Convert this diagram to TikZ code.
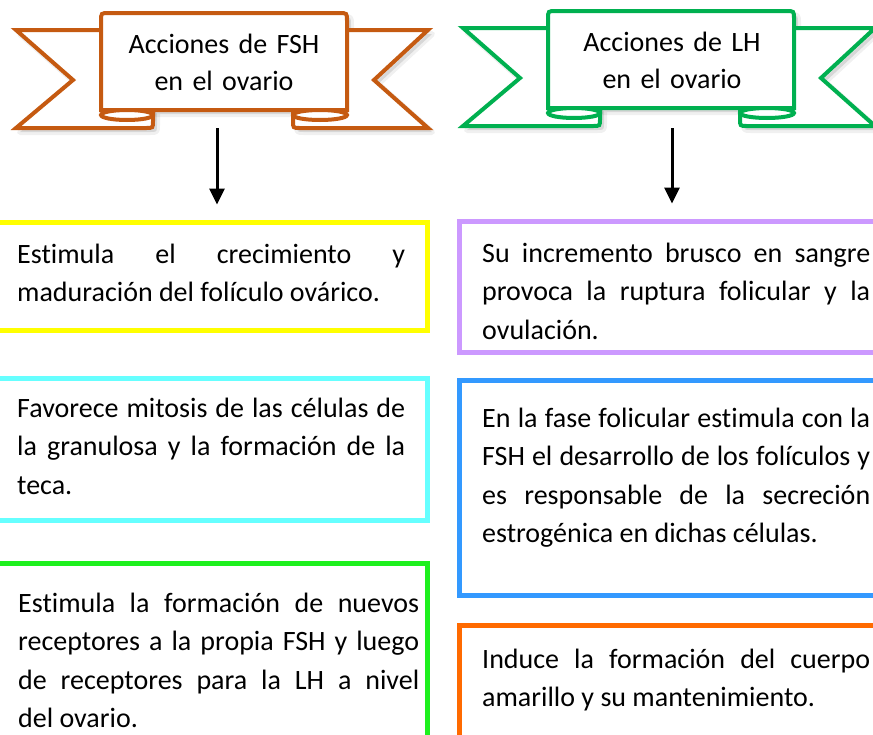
\documentclass[tikz,border=0pt]{standalone}
\usepackage{fontspec}
\setmainfont{Carlito}[Ligatures=CommonOff]
\usetikzlibrary{arrows.meta}
\definecolor{bannerOr}{HTML}{C55A11}
\definecolor{bannerGr}{HTML}{00B050}
\definecolor{cYel}{HTML}{FFFF00}
\definecolor{cCyan}{HTML}{66FFFF}
\definecolor{cGreen}{HTML}{1EF01E}
\definecolor{cPurp}{HTML}{CC99FF}
\definecolor{cBlue}{HTML}{3399FF}
\definecolor{cOrange}{HTML}{FF6A00}
\hyphenpenalty=10000
\exhyphenpenalty=10000
\tikzset{
  tailL/.style={insert path={(101,30) -- (16,30) -- (73,80) -- (16,128) -- (146,128) .. controls (153,128) .. (153,121) -- (153,110)}},
  tailR/.style={insert path={(347,30) -- (428,30) -- (374,80) -- (428,128) -- (300,128) .. controls (293,128) .. (293,121) -- (293,110)}},
  panel/.style={insert path={(101,110) -- (101,21) .. controls (101,13) .. (109,13) -- (339,13) .. controls (347,13) .. (347,21) -- (347,110) -- cycle}},
  shadowfill/.style={fill=black, fill opacity=0.10, draw=black, draw opacity=0.06, line width=6pt, line join=round},
  boxframe/.style={draw, line width=5pt, fill=none, inner sep=0pt, outer sep=auto},
  txt/.style={anchor=base west, inner sep=0pt, text width=388pt, align=justify,
              font=\fontsize{28}{38.5}\selectfont},
  ttl/.style={anchor=base, inner sep=0pt, text width=240pt, align=center,
              font=\fontsize{28}{37}\selectfont},
  arr/.style={line width=3pt, -{Triangle[length=16pt,width=15pt]}},
}
\newcommand\ribbonpic[1]{%
  \begin{scope}[shift={(4,4)}]
    \path[shadowfill, tailL];
    \path[shadowfill, tailR];
    \path[shadowfill, panel];
  \end{scope}
  \draw[#1, line width=4pt, fill=white, line join=miter, tailL];
  \draw[#1, line width=4pt, fill=white, line join=miter, tailR];
  \draw[#1, line width=4pt, fill=white, panel];
  \draw[#1, line width=4pt, fill=white] (127,115) ellipse [x radius=26pt, y radius=5pt];
  \draw[#1, line width=4pt, fill=white] (320,115) ellipse [x radius=27pt, y radius=5pt];
}
\begin{document}
\begin{tikzpicture}[x=1pt,y=-1pt]
\useasboundingbox (0,0) rectangle (873,734);
\fill[white] (0,0) rectangle (873,734);

% banners
\ribbonpic{bannerOr}
\node[ttl] (fsh) at (224,53) {Acciones de FSH\\en el ovario};
\begin{scope}[shift={(447,-2)}]
\ribbonpic{bannerGr}
\end{scope}
\node[ttl] (lh) at (672,51) {Acciones de LH\\en el ovario};

% boxes
\node[boxframe, draw=cYel, minimum width=437pt, minimum height=108pt] (yb) at (208.5,276) {};
\node[boxframe, draw=cCyan, minimum width=437pt, minimum height=142pt] (cb) at (208.5,449) {};
\node[boxframe, draw=cGreen, minimum width=437pt, minimum height=192pt] (gb) at (208.5,659) {};
\node[boxframe, draw=cPurp, minimum width=430pt, minimum height=131pt] (pb) at (674,286.5) {};
\node[boxframe, draw=cBlue, minimum width=430pt, minimum height=215pt] (bb) at (674,487.5) {};
\node[boxframe, draw=cOrange, minimum width=430pt, minimum height=130pt] (ob) at (674,690) {};

% texts
\node[txt] (t1) at (17,263) {Estimula el crecimiento y\linebreak maduración del folículo ovárico.};
\node[txt] (t2) at (17,417) {Favorece mitosis de las células de\linebreak la granulosa y la formación de la\linebreak teca.};
\node[txt, text width=401pt] (t3) at (18,612) {Estimula la formación de nuevos\linebreak receptores a la propia FSH y luego\linebreak de receptores para la LH a nivel\linebreak del ovario.};
\node[txt] (t4) at (482,262) {Su incremento brusco en sangre\linebreak provoca la ruptura folicular y la\linebreak ovulación.};
\node[txt] (t5) at (482,427) {En la fase folicular estimula con la\linebreak FSH el desarrollo de los folículos y\linebreak es responsable de la secreción\linebreak estrogénica en dichas células.};
\node[txt] (t6) at (482,668) {Induce la formación del cuerpo\linebreak amarillo y su mantenimiento.};

% arrows
\coordinate (a1) at (217,128);
\coordinate (a2) at (672,128);
\draw[arr, shorten >=15pt] (a1) -- (a1 |- yb.north);
\draw[arr, shorten >=15pt] (a2) -- (a2 |- pb.north);
\end{tikzpicture}
\end{document}
